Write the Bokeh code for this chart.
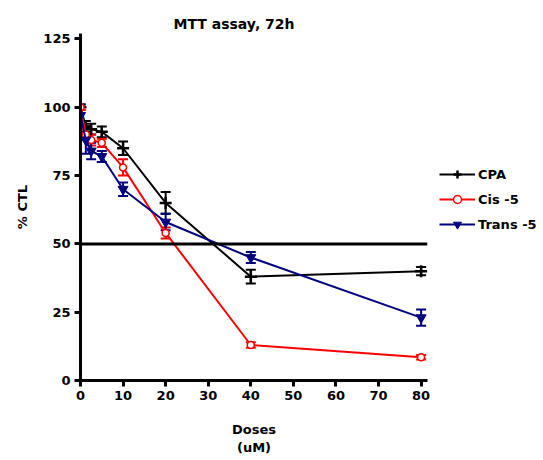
from bokeh.plotting import figure
from bokeh.models import Span, Whisker, ColumnDataSource, Legend, LegendItem, FixedTicker, TeeHead
from bokeh.embed import file_html
from bokeh.resources import INLINE

# ---- data ----
doses = [0, 1.25, 2.5, 5, 10, 20, 40, 80]
cpa = [100, 93, 92, 91, 85, 65, 38, 40]
cpa_err = [1, 2, 2, 2, 2.5, 4, 2.5, 1.5]
cis = [100, 90, 88, 87, 78, 54, 13, 8.5]
cis_err = [1, 2, 2, 1.5, 3, 2, 1, 0.8]
trans = [97, 88, 84, 82, 70, 58, 45, 23]
trans_err = [4, 5, 3, 2, 2.5, 3, 2, 3]
x_ticks = [0, 10, 20, 30, 40, 50, 60, 70, 80]
y_ticks = [0, 25, 50, 75, 100, 125]
series_names = ["CPA", "Cis -5", "Trans -5"]
title_text = "MTT assay, 72h"
y_label = "% CTL"
x_label = "Doses\n(uM)"

FONT = "DejaVu Sans"

p = figure(frame_width=347, frame_height=347, x_range=(0, 81.5), y_range=(0, 127),
           min_border_left=80, min_border_top=33, min_border_bottom=80, min_border_right=0,
           output_backend="svg", toolbar_location=None, title=title_text)

p.title.text_font = FONT
p.title.text_font_size = "14px"
p.title.text_font_style = "bold"
p.title.text_color = "black"
p.title.align = "left"
p.title.offset = 93
p.title.standoff = 4

p.outline_line_color = None
p.xgrid.visible = False
p.ygrid.visible = False

for ax in (p.xaxis[0], p.yaxis[0]):
    ax.axis_line_width = 3
    ax.major_tick_line_width = 3
    ax.major_tick_out = 6
    ax.major_tick_in = 0
    ax.minor_tick_line_color = None
    ax.major_label_text_font = FONT
    ax.major_label_text_font_style = "bold"
    ax.major_label_text_font_size = "13px"
    ax.major_label_text_color = "black"
    ax.axis_label_text_font = FONT
    ax.axis_label_text_font_style = "bold"
    ax.axis_label_text_font_size = "13px"
    ax.axis_label_text_color = "black"

p.xaxis.ticker = FixedTicker(ticks=x_ticks)
p.yaxis.ticker = FixedTicker(ticks=y_ticks)
p.xaxis.axis_label = x_label
p.yaxis.axis_label = y_label
p.xaxis.axis_label_standoff = 19
p.yaxis.axis_label_standoff = 10
p.xaxis.major_label_standoff = 4
p.yaxis.major_label_standoff = 4

p.add_layout(Span(location=50, dimension="width", line_color="black", line_width=3))

items = []
specs = [
    (cpa, cpa_err, "black", "cross"),
    (cis, cis_err, "#ff0000", "circle"),
    (trans, trans_err, "#000080", "inverted_triangle"),
]
for (vals, errs, color, marker), name in zip(specs, series_names):
    src = ColumnDataSource(dict(x=doses, y=vals,
                                upper=[v + e for v, e in zip(vals, errs)],
                                lower=[v - e for v, e in zip(vals, errs)]))
    ln = p.line("x", "y", source=src, line_color=color, line_width=2)
    wh = Whisker(base="x", upper="upper", lower="lower", source=src,
                 line_color=color, line_width=2,
                 upper_head=TeeHead(size=10, line_color=color, line_width=2),
                 lower_head=TeeHead(size=10, line_color=color, line_width=2))
    p.add_layout(wh)
    if marker == "circle":
        mk = p.scatter("x", "y", source=src, marker="circle", size=7,
                       fill_color="white", line_color=color, line_width=1.5)
    elif marker == "cross":
        mk = p.scatter("x", "y", source=src, marker="cross", size=12,
                       line_color=color, line_width=2.5)
    else:
        mk = p.scatter("x", "y", source=src, marker="inverted_triangle", size=10,
                       fill_color=color, line_color=color)
    items.append(LegendItem(label=name, renderers=[ln, mk]))

legend = Legend(items=items, location=(12, 146), glyph_width=36, glyph_height=20,
                spacing=5, label_standoff=3, padding=0, margin=0,
                border_line_color=None, background_fill_alpha=0,
                label_text_font=FONT, label_text_font_style="bold",
                label_text_font_size="13px", label_text_color="black")
p.add_layout(legend, "right")

open("out.html", "w").write(file_html(p, INLINE))
